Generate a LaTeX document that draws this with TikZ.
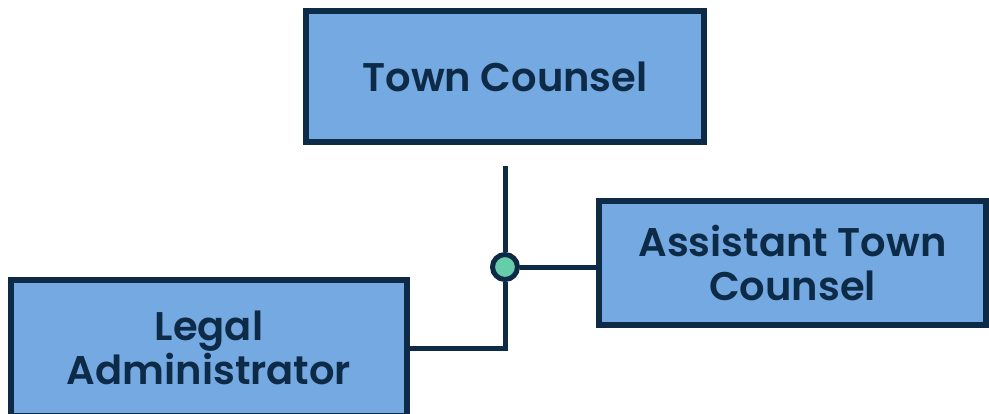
\documentclass[tikz,border=0pt]{standalone}
\usepackage{fontspec}
\newfontfamily\labfont{Poppins}[UprightFont=* SemiBold]
\definecolor{boxfill}{HTML}{74A9E1}
\definecolor{navy}{HTML}{0D2A47}
\definecolor{dotgreen}{HTML}{66CDAA}
\begin{document}
\begin{tikzpicture}[x=1pt,y=-1pt,
  orgbox/.style={draw=navy, fill=boxfill, line width=6pt, align=center,
    text=navy, font=\labfont\fontsize{40}{44}\selectfont, inner sep=0pt},
  conn/.style={draw=navy, line width=5pt},
  junction/.style={circle, draw=navy, fill=dotgreen, line width=5pt, minimum size=25pt, inner sep=0pt}]
\useasboundingbox (0,0) rectangle (989,413);
\begin{scope}
\clip (0,0) rectangle (989,413);
\node[orgbox, minimum width=398pt, minimum height=131pt] (tc) at (505,76.5) {Town Counsel};
\node[orgbox, minimum width=387pt, minimum height=124pt] (ra) at (792.5,263) {Assistant Town\\Counsel};
\node[orgbox, minimum width=396pt, minimum height=136pt] (la) at (209,348) {Legal\\Administrator};
\node[junction] (dot) at (505,267) {};
\coordinate (top) at ([yshift=-21pt]tc.south);
\draw[conn] (top) -- (dot.north);
\draw[conn] (dot.east) -- (dot -| ra.west);
\draw[conn] (dot.south) |- (la.east);
\end{scope}
\end{tikzpicture}
\end{document}
